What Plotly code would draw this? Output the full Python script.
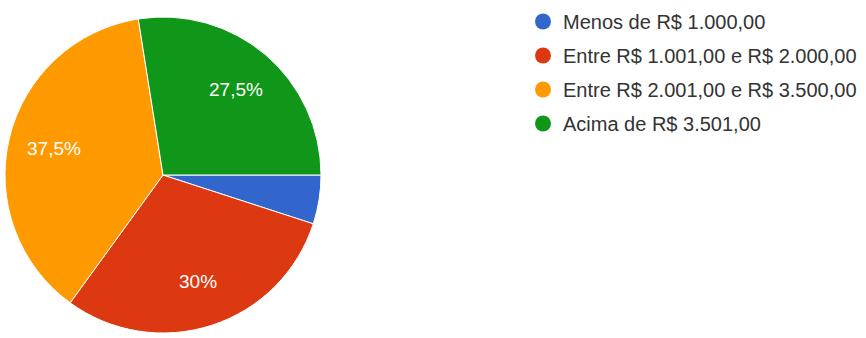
import math
import plotly.graph_objects as go

# Faixas de renda e participação (%)
categorias = [
    "Menos de R$ 1.000,00",
    "Entre R$ 1.001,00 e R$ 2.000,00",
    "Entre R$ 2.001,00 e R$ 3.500,00",
    "Acima de R$ 3.501,00",
]
percentuais = [5.0, 30.0, 37.5, 27.5]
cores = ["#3366cc", "#dc3912", "#ff9900", "#109618"]


def rotulo(v):
    # formato brasileiro: vírgula decimal; fatias pequenas ficam sem rótulo
    if v < 10:
        return ""
    s = f"{v:.1f}".rstrip("0").rstrip(".")
    return s.replace(".", ",") + "%"


rotulos = [rotulo(v) for v in percentuais]

W, H = 866, 338
cx, cy, r = 163, 175, 158
rotacao = 90  # primeira fatia começa às 3 horas, sentido horário

fig = go.Figure()
fig.add_trace(go.Pie(
    labels=categorias,
    values=percentuais,
    textinfo="none",
    marker=dict(colors=cores, line=dict(color="white", width=1)),
    sort=False,
    direction="clockwise",
    rotation=rotacao,
    showlegend=False,
    hoverinfo="label+percent",
    domain=dict(x=[(cx - r) / W, (cx + r) / W],
                y=[1 - (cy + r) / H, 1 - (cy - r) / H]),
))

# rótulos de porcentagem na bissetriz de cada fatia
total = sum(percentuais)
acum = 0.0
for v, txt in zip(percentuais, rotulos):
    meio = rotacao + (acum + v / 2) / total * 360
    acum += v
    if not txt:
        continue
    d = 0.71 * r
    px = cx + d * math.sin(math.radians(meio))
    py = cy - d * math.cos(math.radians(meio))
    fig.add_annotation(
        x=px / W, y=1 - py / H, xref="paper", yref="paper",
        text=txt, showarrow=False, xanchor="center", yanchor="middle",
        font=dict(family="Liberation Sans, Arial, sans-serif", size=19, color="white"),
    )

# legenda com marcadores circulares
for i, (nome, cor) in enumerate(zip(categorias, cores)):
    fig.add_trace(go.Scatter(
        x=[None], y=[None], mode="markers", name=nome,
        marker=dict(symbol="circle", size=17, color=cor),
        legendgroup=f"g{i}", showlegend=True,
    ))

fig.update_layout(
    width=W, height=H,
    margin=dict(l=0, r=0, t=0, b=0),
    paper_bgcolor="white", plot_bgcolor="white",
    xaxis=dict(visible=False), yaxis=dict(visible=False),
    legend=dict(
        x=523 / W, y=1 - 2 / H, xanchor="left", yanchor="top",
        font=dict(family="Liberation Sans, Arial, sans-serif", size=20, color="#333333"),
        itemsizing="trace", tracegroupgap=5, bgcolor="rgba(0,0,0,0)",
    ),
)

fig.write_html("out.html")
